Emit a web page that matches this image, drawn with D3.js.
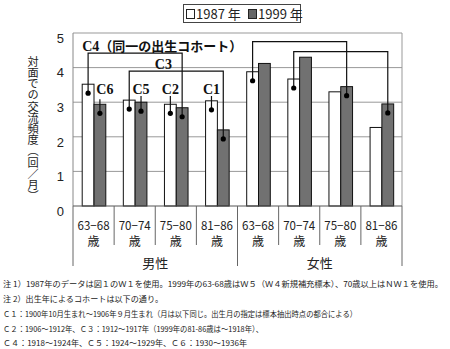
<!DOCTYPE html>
<html><head><meta charset="utf-8">
<script src="https://cdn.jsdelivr.net/npm/d3@7"></script>
<style>
body{margin:0;background:#fff;}
svg{display:block;}
</style></head>
<body>
<svg id="chart" width="450" height="349"></svg>
<script>
const ageGroups = ["63−68","70−74","75−80","81−86"];
const genders = ["男性","女性"];
const categories = ["男63−68","男70−74","男75−80","男81−86","女63−68","女70−74","女75−80","女81−86"];
const values1987 = [3.52, 3.06, 2.94, 3.04, 3.88, 3.67, 3.30, 2.27];
const values1999 = [2.94, 3.00, 2.84, 2.20, 4.12, 4.30, 3.45, 2.95];
const yTicks = [0,1,2,3,4,5];
const seriesNames = ["1987 年","1999 年"];
// cohort connectors: from 1987 bar (index) to 1999 bar (index), bracket level in data units
const cohortLinks = [
  {from:0, to:2, level:4.42, label:"C4（同一の出生コホート）"},
  {from:1, to:3, level:3.90, label:"C3"},
  {from:4, to:6, level:4.75, label:""},
  {from:5, to:7, level:4.46, label:""}
];
// single cohort markers: bar index and series
const cohortMarks = [
  {idx:0, series:"1999", label:"C6"},
  {idx:1, series:"1999", label:"C5"},
  {idx:2, series:"1987", label:"C2"},
  {idx:3, series:"1987", label:"C1"}
];
const notes = [
  "注 1）1987年のデータは図１のＷ１を使用。1999年の63-68歳はＷ５（Ｗ４新規補充標本）、70歳以上はＮＷ１を使用。",
  "注 2）出生年によるコホートは以下の通り。",
  "Ｃ１：1900年10月生まれ～1906年９月生まれ（月は以下同じ。出生月の指定は標本抽出時点の都合による）",
  "Ｃ２：1906～1912年、Ｃ３：1912～1917年（1999年の81-86歳は～1918年）、",
  "Ｃ４：1918～1924年、Ｃ５：1924～1929年、Ｃ６：1930～1936年"
];
const yTitle = "対面での交流頻度（回／月）";

const svg = d3.select("#chart");
const JP = "'Noto Sans CJK JP', 'Noto Sans', sans-serif";
const SERIF = "'Liberation Serif', 'DejaVu Serif', serif";
const L = 73, R = 402, T = 33, B = 206;

const x = d3.scaleBand().domain(categories).range([L, R]).paddingInner(0).paddingOuter(0);
const y = d3.scaleLinear().domain([0,5]).range([B, T]);
const bw = 11.8;
const off = 9.2;
const x87 = i => x(categories[i]) + off;
const x99 = i => x(categories[i]) + off + bw;
const dotOff = 9;

// gridlines
svg.append("g").selectAll("line").data(yTicks.filter(d=>d>0)).join("line")
  .attr("x1", L).attr("x2", R).attr("y1", d=>y(d)).attr("y2", d=>y(d))
  .attr("stroke", "#999").attr("stroke-width", 1);
// frame
svg.append("line").attr("x1",R).attr("x2",R).attr("y1",T).attr("y2",B).attr("stroke","#999");
svg.append("line").attr("x1",L).attr("x2",L).attr("y1",T).attr("y2",B).attr("stroke","#888");

// y axis
const yAxis = d3.axisLeft(y).tickValues(yTicks).tickFormat(d3.format("d")).tickSize(0).tickPadding(9);
const gy = svg.append("g").attr("transform", `translate(${L},0)`).call(yAxis);
gy.select(".domain").remove();
gy.selectAll("text").attr("font-family", "'Liberation Sans', Arial, sans-serif").attr("font-size", 13)
  .attr("fill", "#222").attr("dy", "0.72em").attr("x", -9);

// bars
const bars = svg.append("g");
bars.selectAll("rect.b87").data(values1987).join("rect").attr("class","b87")
  .attr("x",(d,i)=>x87(i)).attr("y",d=>y(d)).attr("width",bw).attr("height",d=>B-y(d))
  .attr("fill","#fff").attr("stroke","#111").attr("stroke-width",1);
bars.selectAll("rect.b99").data(values1999).join("rect").attr("class","b99")
  .attr("x",(d,i)=>x99(i)).attr("y",d=>y(d)).attr("width",bw).attr("height",d=>B-y(d))
  .attr("fill","#717171").attr("stroke","#111").attr("stroke-width",1);

// baseline
svg.append("line").attr("x1",L).attr("x2",R).attr("y1",B).attr("y2",B).attr("stroke","#555");

// cohort connectors
const conn = svg.append("g").attr("fill","none").attr("stroke","#111").attr("stroke-width",1.2);
cohortLinks.forEach(c=>{
  const xa = x87(c.from)+bw/2, ya = y(values1987[c.from])+dotOff;
  const xb = x99(c.to)+bw/2, yb = y(values1999[c.to])+dotOff;
  const yl = y(c.level);
  conn.append("path").attr("d", `M${xa},${ya}V${yl}H${xb}V${yb}`);
  svg.append("circle").attr("cx",xa).attr("cy",ya).attr("r",2.6).attr("fill","#000");
  svg.append("circle").attr("cx",xb).attr("cy",yb).attr("r",2.6).attr("fill","#000");
});
// C4 / C3 labels
svg.append("text").attr("x", x87(0)).attr("y", y(cohortLinks[0].level)-2)
  .attr("font-family", SERIF).attr("font-weight","bold").attr("font-size",14).attr("fill","#111")
  .text("C4").append("tspan").attr("font-family", JP).attr("font-size",13).text("（同一の出生コホート）");
svg.append("text").attr("x", (x87(1)+x99(3))/2 - 7).attr("y", y(cohortLinks[1].level)-2)
  .attr("text-anchor","middle")
  .attr("font-family", SERIF).attr("font-weight","bold").attr("font-size",14).attr("fill","#111")
  .text(cohortLinks[1].label);

// single marks
cohortMarks.forEach(m=>{
  const is87 = m.series==="1987";
  const v = is87 ? values1987[m.idx] : values1999[m.idx];
  const cx = (is87 ? x87(m.idx) : x99(m.idx)) + bw/2;
  const cy = y(v)+dotOff;
  const lx = m.label==="C6" ? cx+5 : cx;
  conn.append("line").attr("x1",cx).attr("x2",cx).attr("y1",cy).attr("y2", m.label==="C6"? y(v)-5 : 96);
  svg.append("circle").attr("cx",cx).attr("cy",cy).attr("r",2.6).attr("fill","#000");
  svg.append("text").attr("x",lx).attr("y",94).attr("text-anchor","middle")
    .attr("font-family", SERIF).attr("font-weight","bold").attr("font-size",14).attr("fill","#111")
    .text(m.label);
});

// x axis category labels
const xl = svg.append("g").attr("font-family", JP).attr("fill","#222");
categories.forEach((c,i)=>{
  const cx = x(c)+x.bandwidth()/2;
  xl.append("text").attr("x",cx).attr("y",230).attr("text-anchor","middle").attr("font-size",12)
    .attr("textLength",32).attr("lengthAdjust","spacingAndGlyphs")
    .text(ageGroups[i%4]);
  xl.append("text").attr("x",cx).attr("y",246).attr("text-anchor","middle").attr("font-size",12)
    .text("歳");
});
// separators
const seps = svg.append("g").attr("stroke","#666").attr("stroke-width",1);
categories.forEach((c,i)=>{
  if(i===0 || i===4) return;
  seps.append("line").attr("x1",x(c)).attr("x2",x(c)).attr("y1",B).attr("y2",245);
});
[L, x(categories[4]), R].forEach(xx=>{
  seps.append("line").attr("x1",xx).attr("x2",xx).attr("y1",B).attr("y2",266);
});
genders.forEach((g,gi)=>{
  const x0 = x(categories[gi*4]), x1 = x(categories[gi*4+3])+x.bandwidth();
  xl.append("text").attr("x",(x0+x1)/2).attr("y",268).attr("text-anchor","middle").attr("font-size",13).text(g);
});

// y title vertical
svg.append("text").attr("x",33).attr("y",56)
  .attr("style","writing-mode: vertical-rl; text-orientation: mixed;")
  .attr("font-family", JP).attr("font-size",11.2).attr("fill","#222")
  .text(yTitle);

// legend
const lg = svg.append("g");
lg.append("rect").attr("x",183.5).attr("y",4.5).attr("width",117).attr("height",18)
  .attr("fill","#fff").attr("stroke","#444");
lg.append("rect").attr("x",186.5).attr("y",9.5).attr("width",8).attr("height",9).attr("fill","#fff").attr("stroke","#222");
lg.append("text").attr("x",196).attr("y",18.5).attr("font-family",JP).attr("font-size",13).attr("fill","#222").text(seriesNames[0]);
lg.append("rect").attr("x",248.5).attr("y",9.5).attr("width",8).attr("height",9).attr("fill","#666").attr("stroke","#222");
lg.append("text").attr("x",258).attr("y",18.5).attr("font-family",JP).attr("font-size",13).attr("fill","#222").text(seriesNames[1]);

// notes
const noteY = [287, 302, 317, 332, 346];
const noteW = [440, 160, 354, 260, 244];
notes.forEach((n,i)=>{
  svg.append("text").attr("x",3).attr("y",noteY[i]).attr("font-family",JP).attr("font-size",8)
    .attr("fill","#222").attr("textLength",noteW[i]).attr("lengthAdjust","spacingAndGlyphs").text(n);
});
</script>
</body></html>
